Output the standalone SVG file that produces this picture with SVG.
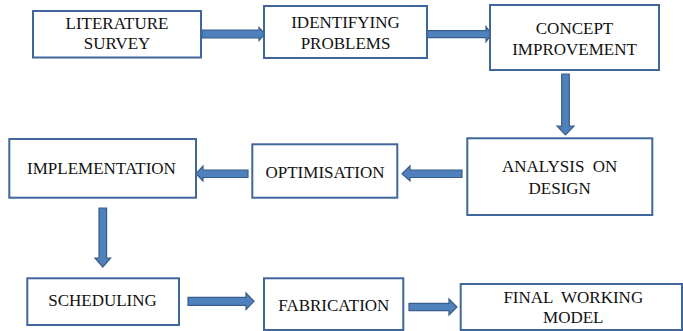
<svg xmlns="http://www.w3.org/2000/svg" width="683" height="331" viewBox="0 0 683 331">
<style>
.box{fill:#ffffff;stroke:#41679a;stroke-width:2}
.t{font-family:"Times New Roman","Liberation Serif",Tinos,"DejaVu Serif",serif;font-size:17px;fill:#111;text-anchor:middle}
.arr{fill:#4f81bd;stroke:#385d8a;stroke-width:1.2;stroke-linejoin:miter}
</style>
<rect width="683" height="331" fill="#ffffff"/>
<g id="connectors">
<path class="arr" d="M202,30 L259,30 L259,27.5 L265,34 L259,40.5 L259,38 L202,38 Z"/>
<path class="arr" d="M427,30.7 L486,30.7 L486,26.7 L491.5,34.2 L486,41.7 L486,37.7 L427,37.7 Z"/>
<path class="arr" d="M561.7,74 L561.7,126 L557,126 L565.5,135 L574,126 L569.3,126 L569.3,74 Z"/>
<path class="arr" d="M462,170 L410,170 L410,166 L402,173.7 L410,181 L410,177.5 L462,177.5 Z"/>
<path class="arr" d="M248,170 L203,170 L203,166 L196,173.7 L203,181 L203,177.5 L248,177.5 Z"/>
<path class="arr" d="M99,208 L99,258 L95,258 L102.8,267 L110.6,258 L106.6,258 L106.6,208 Z"/>
<path class="arr" d="M188,297.3 L246,297.3 L246,293 L254,301.3 L246,309.5 L246,305.3 L188,305.3 Z"/>
<path class="arr" d="M409,303.3 L449,303.3 L449,299 L457,307 L449,315 L449,310.7 L409,310.7 Z"/>
</g>
<g id="literature-survey">
<rect class="box" x="33" y="11" width="168" height="46.5"/>
<text class="t" x="117" y="29" font-size="16">LITERATURE</text>
<text class="t" x="117" y="49" font-size="16">SURVEY</text>
</g>
<g id="identifying-problems">
<rect class="box" x="264" y="6" width="163" height="52"/>
<text class="t" x="345.5" y="27.5" font-size="17.3">IDENTIFYING</text>
<text class="t" x="345.5" y="48.5" font-size="17.3">PROBLEMS</text>
</g>
<g id="concept-improvement">
<rect class="box" x="490" y="5" width="169" height="65"/>
<text class="t" x="574.5" y="34.3" font-size="17.6">CONCEPT</text>
<text class="t" x="574.5" y="55" font-size="17.6">IMPROVEMENT</text>
</g>
<g id="analysis-on-design">
<rect class="box" x="467.3" y="138.3" width="185" height="76.7"/>
<text class="t" x="559.7" y="172.3" font-size="17.3" xml:space="preserve">ANALYSIS  ON</text>
<text class="t" x="559.7" y="194" font-size="17.3">DESIGN</text>
</g>
<g id="optimisation">
<rect class="box" x="252.3" y="144.3" width="145" height="53.4"/>
<text class="t" x="325" y="178.3" font-size="17">OPTIMISATION</text>
</g>
<g id="implementation">
<rect class="box" x="9.3" y="139" width="186.7" height="58.7"/>
<text class="t" x="101.5" y="174.3" font-size="16.6">IMPLEMENTATION</text>
</g>
<g id="scheduling">
<rect class="box" x="27.3" y="278.3" width="151.7" height="46.7"/>
<text class="t" x="102.5" y="306" font-size="16.3">SCHEDULING</text>
</g>
<g id="fabrication">
<rect class="box" x="264" y="278.3" width="139.3" height="51.7"/>
<text class="t" x="333.8" y="310.7" font-size="17.2">FABRICATION</text>
</g>
<g id="final-working-model">
<rect class="box" x="460.7" y="284" width="221.3" height="46"/>
<text class="t" x="573.3" y="303.3" font-size="17.6" xml:space="preserve">FINAL  WORKING</text>
<text class="t" x="573.3" y="323.3" font-size="17.6">MODEL</text>
</g>
</svg>
